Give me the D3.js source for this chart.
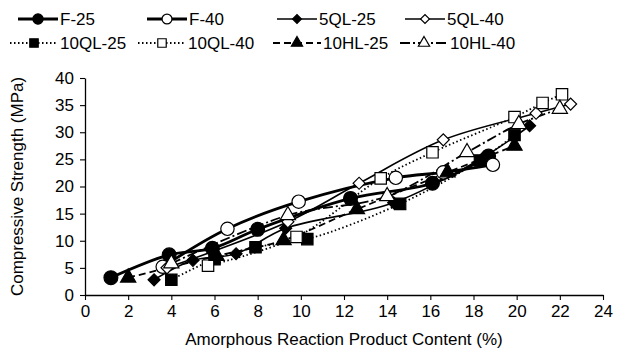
<!DOCTYPE html>
<html>
<head>
<meta charset="utf-8">
<script src="https://cdn.jsdelivr.net/npm/d3@7"></script>
<style>
  body { margin: 0; background: #fff; }
  svg text { font-family: "Liberation Sans", Arial, sans-serif; fill: #000; }
</style>
</head>
<body>
<div class="chart_viz"></div>
<script>
// values: [amorphous content %, strength MPa]
var f25   = [[1.2,3.2],[3.9,7.4],[5.9,8.6],[8.0,12.1],[12.3,17.8],[16.1,20.6],[18.7,25.6]];
var f40   = [[3.6,5.2],[6.6,12.2],[9.9,17.2],[14.4,21.6],[16.6,22.6],[18.9,24.0]];
var ql5_25 = [[3.2,2.8],[5.0,6.4],[7.0,7.6],[9.3,12.3],[14.3,17.0],[18.5,25.5],[20.6,31.2]];
var ql5_40 = [[3.8,5.0],[9.4,13.5],[12.7,20.6],[16.6,28.6],[20.9,33.5],[22.5,35.2]];
var ql10_25 = [[4.0,2.8],[6.0,6.6],[7.9,8.8],[10.3,10.3],[14.6,16.8],[18.3,24.8],[19.9,29.5]];
var ql10_40 = [[5.7,5.4],[9.8,10.7],[13.7,21.5],[16.1,26.3],[19.9,32.8],[21.2,35.4],[22.1,37.0]];
var hl10_25 = [[2.0,3.2],[6.1,7.2],[9.2,10.1],[12.6,15.8],[16.8,22.6],[19.9,27.5]];
var hl10_40 = [[4.0,5.8],[9.4,14.7],[14.0,18.2],[17.7,26.3],[20.1,31.5],[22.0,34.3]];

var seriesNames = ["F-25","F-40","5QL-25","5QL-40","10QL-25","10QL-40","10HL-25","10HL-40"];
var xTicks = d3.range(0, 25, 2);
var yTicks = d3.range(0, 41, 5);

var series = [
  {name: seriesNames[0], data: f25,    sym: d3.symbolCircle,   size: 150, rot: 0,  fill: "#000", width: 2.8, dash: null},
  {name: seriesNames[1], data: f40,    sym: d3.symbolCircle,   size: 140, rot: 0,  fill: "#fff", width: 2.8, dash: null},
  {name: seriesNames[2], data: ql5_25, sym: d3.symbolSquare,   size: 72,  rot: 45, fill: "#000", width: 1.6, dash: null},
  {name: seriesNames[3], data: ql5_40, sym: d3.symbolSquare,   size: 72,  rot: 45, fill: "#fff", width: 1.6, dash: null},
  {name: seriesNames[4], data: ql10_25, sym: d3.symbolSquare,  size: 130, rot: 0,  fill: "#000", width: 1.8, dash: "1.5,2.5"},
  {name: seriesNames[5], data: ql10_40, sym: d3.symbolSquare,  size: 130, rot: 0,  fill: "#fff", width: 1.8, dash: "1.5,2.5"},
  {name: seriesNames[6], data: hl10_25, sym: d3.symbolTriangle, size: 100, rot: 0, fill: "#000", width: 1.8, dash: "7,4"},
  {name: seriesNames[7], data: hl10_40, sym: d3.symbolTriangle, size: 100, rot: 0, fill: "#fff", width: 1.8, dash: "10,3,2,3"}
];

var width = 625, height = 353;
var margin = {left: 85, right: 22, top: 78, bottom: 58};
var fontSize = "17px";

var svg = d3.select(".chart_viz").append("svg")
  .attr("width", width)
  .attr("height", height);

var x = d3.scaleLinear().domain([0, 24]).range([margin.left, width - margin.right]);
var y = d3.scaleLinear().domain([0, 40]).range([height - margin.bottom, margin.top]);

// axes
var xAxis = svg.append("g")
  .attr("transform", "translate(0," + y(0) + ")")
  .call(d3.axisBottom(x).tickValues(xTicks).tickSize(5).tickSizeOuter(0).tickPadding(5));
var yAxis = svg.append("g")
  .attr("transform", "translate(" + x(0) + ",0)")
  .call(d3.axisLeft(y).tickValues(yTicks).tickSize(5).tickSizeOuter(0).tickPadding(6));

[xAxis, yAxis].forEach(function(a) {
  a.select(".domain").attr("stroke", "#000").attr("stroke-width", 1.3);
  a.selectAll(".tick line").attr("stroke", "#000").attr("stroke-width", 1.1);
  a.selectAll(".tick text").style("font-size", fontSize).attr("font-family", "Liberation Sans, Arial, sans-serif");
});

// axis titles
svg.append("text")
  .attr("x", (x(0) + x(24)) / 2)
  .attr("y", 345)
  .attr("text-anchor", "middle")
  .style("font-size", fontSize)
  .text("Amorphous Reaction Product Content (%)");

svg.append("text")
  .attr("transform", "translate(23," + ((y(0) + y(40)) / 2) + ") rotate(-90)")
  .attr("text-anchor", "middle")
  .style("font-size", fontSize)
  .text("Compressive Strength (MPa)");

// lines
var line = d3.line()
  .x(function(d) { return x(d[0]); })
  .y(function(d) { return y(d[1]); })
  .curve(d3.curveCatmullRom.alpha(0.5));

var plot = svg.append("g");
series.forEach(function(s) {
  plot.append("path")
    .datum(s.data)
    .attr("d", line)
    .attr("fill", "none")
    .attr("stroke", "#000")
    .attr("stroke-width", s.width)
    .attr("stroke-dasharray", s.dash);
});
series.forEach(function(s) {
  plot.selectAll(null)
    .data(s.data)
    .enter().append("path")
    .attr("transform", function(d) { return "translate(" + x(d[0]) + "," + y(d[1]) + ") rotate(" + s.rot + ")"; })
    .attr("d", d3.symbol().type(s.sym).size(s.size))
    .attr("fill", s.fill)
    .attr("stroke", "#000")
    .attr("stroke-width", 1.2);
});

// legend
var legendPos = [
  {x: 18, y: 19}, {x: 147, y: 19}, {x: 277, y: 19}, {x: 405, y: 19},
  {x: 10, y: 43}, {x: 138, y: 43}, {x: 273, y: 43}, {x: 400, y: 43}
];
var legend = svg.append("g");
series.forEach(function(s, i) {
  var p = legendPos[i];
  var g = legend.append("g").attr("transform", "translate(" + p.x + "," + p.y + ")");
  var len = i < 4 ? 40 : 48;
  g.append("line")
    .attr("x1", 0).attr("x2", len)
    .attr("stroke", "#000")
    .attr("stroke-width", s.width)
    .attr("stroke-dasharray", s.dash);
  g.append("path")
    .attr("transform", "translate(" + (len / 2) + ",0) rotate(" + s.rot + ")")
    .attr("d", d3.symbol().type(s.sym).size(s.size * 0.55))
    .attr("fill", s.fill)
    .attr("stroke", "#000")
    .attr("stroke-width", 1.2);
  g.append("text")
    .attr("x", len + 2)
    .attr("y", 6)
    .style("font-size", fontSize)
    .text(s.name);
});
</script>
</body>
</html>
